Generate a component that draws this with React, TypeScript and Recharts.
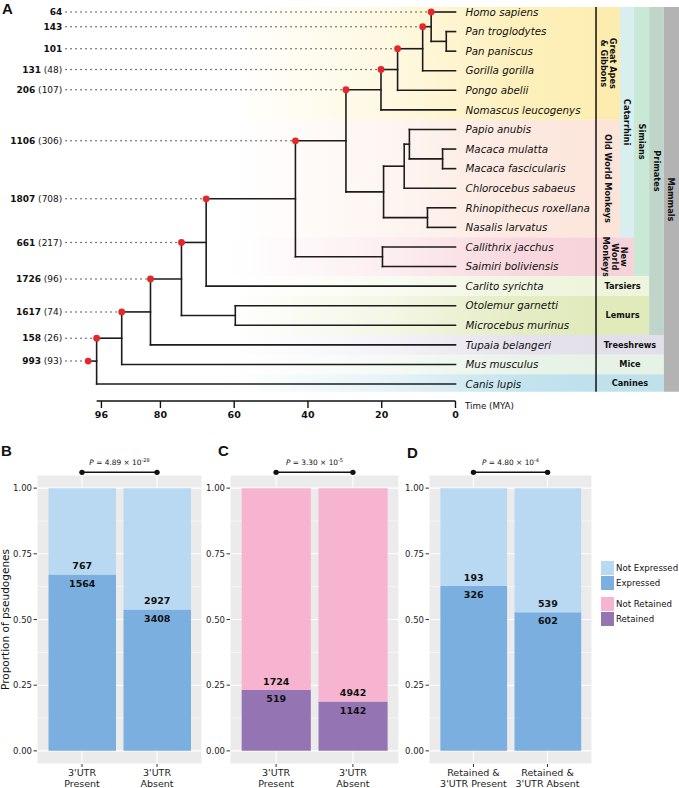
import React from "react"
import {
  ScatterChart,
  Scatter,
  XAxis,
  YAxis,
  ReferenceLine,
  ReferenceArea,
  ReferenceDot,
  BarChart,
  Bar,
  CartesianGrid,
  LabelList,
} from "recharts"

const FONT = "'DejaVu Sans', Verdana, sans-serif"

// ---------- A: species tree ----------
const TIPS = [
  "Homo sapiens",
  "Pan troglodytes",
  "Pan paniscus",
  "Gorilla gorilla",
  "Pongo abelii",
  "Nomascus leucogenys",
  "Papio anubis",
  "Macaca mulatta",
  "Macaca fascicularis",
  "Chlorocebus sabaeus",
  "Rhinopithecus roxellana",
  "Nasalis larvatus",
  "Callithrix jacchus",
  "Saimiri boliviensis",
  "Carlito syrichta",
  "Otolemur garnetti",
  "Microcebus murinus",
  "Tupaia belangeri",
  "Mus musculus",
  "Canis lupis",
]

// internal nodes: divergence time (MYA) and the two descendants
const NODES = [
  { id: "pan", age: 2.5, kids: ["Pan troglodytes", "Pan paniscus"] },
  { id: "hominini", age: 6.6, kids: ["Homo sapiens", "pan"] },
  { id: "homininae", age: 8.9, kids: ["hominini", "Gorilla gorilla"] },
  { id: "hominidae", age: 15.7, kids: ["homininae", "Pongo abelii"] },
  { id: "hominoidea", age: 20.2, kids: ["hominidae", "Nomascus leucogenys"] },
  { id: "macaca", age: 3.5, kids: ["Macaca mulatta", "Macaca fascicularis"] },
  { id: "papionini", age: 12.5, kids: ["Papio anubis", "macaca"] },
  { id: "cercopithecinae", age: 13.9, kids: ["papionini", "Chlorocebus sabaeus"] },
  { id: "colobinae", age: 7.6, kids: ["Rhinopithecus roxellana", "Nasalis larvatus"] },
  { id: "cercopithecidae", age: 19.5, kids: ["cercopithecinae", "colobinae"] },
  { id: "catarrhini", age: 29.7, kids: ["hominoidea", "cercopithecidae"] },
  { id: "platyrrhini", age: 19.8, kids: ["Callithrix jacchus", "Saimiri boliviensis"] },
  { id: "simiiformes", age: 43.4, kids: ["catarrhini", "platyrrhini"] },
  { id: "haplorhini", age: 67.6, kids: ["simiiformes", "Carlito syrichta"] },
  { id: "strepsirrhini", age: 59.7, kids: ["Otolemur garnetti", "Microcebus murinus"] },
  { id: "primates", age: 74.3, kids: ["haplorhini", "strepsirrhini"] },
  { id: "euarchonta", age: 82.7, kids: ["primates", "Tupaia belangeri"] },
  { id: "euarchontoglires", age: 90.5, kids: ["euarchonta", "Mus musculus"] },
  { id: "boreoeutheria", age: 97.3, kids: ["euarchontoglires", "Canis lupis"] },
]
const ROOT_ID = "boreoeutheria"
const ROOT_STEM_AGE = 99.6

// pseudogenes born on each branch (retained in brackets)
const BRANCH_COUNTS = [
  { node: "Homo sapiens", total: "64", retained: "" },
  { node: "hominini", total: "143", retained: "" },
  { node: "homininae", total: "101", retained: "" },
  { node: "hominidae", total: "131", retained: "48" },
  { node: "hominoidea", total: "206", retained: "107" },
  { node: "catarrhini", total: "1106", retained: "306" },
  { node: "simiiformes", total: "1807", retained: "708" },
  { node: "haplorhini", total: "661", retained: "217" },
  { node: "primates", total: "1726", retained: "96" },
  { node: "euarchonta", total: "1617", retained: "74" },
  { node: "euarchontoglires", total: "158", retained: "26" },
  { node: "boreoeutheria", total: "993", retained: "93" },
]

const TIME_TICKS = [0, 20, 40, 60, 80, 96]
const X_DOMAIN = [-60.6, 123.5]
const Y_DOMAIN = [-0.613, 19.867]
const LABEL_AGE = 106.6
const DOTS_FROM_AGE = 105.6
const BAND_START_AGE = 62
const ROW_TOP = -0.26
const ROW_BOTTOM = 19.4
// right-hand annotation columns, in the same time units as the x axis
const COL_EDGES = [-38.1, -44.6, -48.4, -52.5, -56.5, -60.6]

const ROW_GROUPS = [
  { from: 0, to: 5, color: "#fdeeb3" },
  { from: 6, to: 11, color: "#fce6dc" },
  { from: 12, to: 13, color: "#f7d3da" },
  { from: 14, to: 14, color: "#eef5dc" },
  { from: 15, to: 16, color: "#e1eabc" },
  { from: 17, to: 17, color: "#e3dfeb" },
  { from: 18, to: 18, color: "#e6f2e6" },
  { from: 19, to: 19, color: "#bde0ec" },
]

const CLADES = [
  { lines: ["Great Apes", "& Gibbons"], from: 0, to: 5, cols: [0, 1], color: "#fdecb0", rotate: true },
  { lines: ["Old World Monkeys"], from: 6, to: 11, cols: [0, 1], color: "#fce4d8", rotate: true },
  { lines: ["New", "World", "Monkeys"], from: 12, to: 13, cols: [0, 2], color: "#f6d2d9", rotate: true },
  { lines: ["Catarrhini"], from: 0, to: 11, cols: [1, 2], color: "#d9eeee", rotate: true },
  { lines: ["Simians"], from: 0, to: 13, cols: [2, 3], color: "#c9e8d6", rotate: true },
  { lines: ["Tarsiers"], from: 14, to: 14, cols: [0, 3], color: "#eef5dc", rotate: false },
  { lines: ["Lemurs"], from: 15, to: 16, cols: [0, 3], color: "#e1eabb", rotate: false },
  { lines: ["Primates"], from: 0, to: 16, cols: [3, 4], color: "#bfd5ca", rotate: true },
  { lines: ["Treeshrews"], from: 17, to: 17, cols: [0, 4], color: "#e2dfea", rotate: false },
  { lines: ["Mice"], from: 18, to: 18, cols: [0, 4], color: "#e6f2e5", rotate: false },
  { lines: ["Canines"], from: 19, to: 19, cols: [0, 4], color: "#bfe1ec", rotate: false },
  { lines: ["Mammals"], from: 0, to: 19, cols: [4, 5], color: "#b3b3b3", rotate: true },
]

// ---------- B, C, D: proportions ----------
const UTR_CATS = ["3'UTR\nPresent", "3'UTR\nAbsent"]
const B_EXPRESSED = [1564, 3408]
const B_NOT_EXPRESSED = [767, 2927]
const C_RETAINED = [519, 1142]
const C_NOT_RETAINED = [1724, 4942]
const D_CATS = ["Retained &\n3'UTR Present", "Retained &\n3'UTR Absent"]
const D_EXPRESSED = [326, 602]
const D_NOT_EXPRESSED = [193, 539]
const P_VALUES = [
  { mantissa: "4.89", exponent: "-28" },
  { mantissa: "3.30", exponent: "-5" },
  { mantissa: "4.80", exponent: "-4" },
]
const Y_DOMAIN_P = [-0.05, 1.05]
const Y_TICKS = [0, 0.25, 0.5, 0.75, 1]
const Y_MINOR = [0.125, 0.375, 0.625, 0.875]

const BLUE_LIGHT = "#b9d9f3"
const BLUE_DARK = "#7aafe0"
const PINK = "#f6b4d0"
const PURPLE = "#9574b4"

// tree helpers
const nodeMap = new Map(NODES.map((n) => [n.id, n]))
const parentOf = new Map<string, string>()
NODES.forEach((n) => n.kids.forEach((k) => parentOf.set(k, n.id)))
const ageOf = (id: string): number => nodeMap.get(id)?.age ?? 0
const rowOf = (id: string): number => {
  const n = nodeMap.get(id)
  if (!n) return TIPS.indexOf(id)
  return (rowOf(n.kids[0]) + rowOf(n.kids[1])) / 2
}
const parentAge = (id: string) => (id === ROOT_ID ? ROOT_STEM_AGE : ageOf(parentOf.get(id) as string))

function CladeText({ viewBox, lines, rotate }: any) {
  const { x, y, width, height } = viewBox
  const cx = x + width / 2
  const cy = y + height / 2
  const fs = 8.2
  const lh = 9
  return (
    <text
      transform={rotate ? `rotate(90 ${cx} ${cy})` : undefined}
      textAnchor="middle"
      fontSize={fs}
      fontWeight="bold"
      fontFamily={FONT}
      fill="#111"
    >
      {lines.map((l: string, i: number) => (
        <tspan key={i} x={cx} y={cy + (i - (lines.length - 1) / 2) * lh + fs * 0.36}>
          {l}
        </tspan>
      ))}
    </text>
  )
}

function TreePanel() {
  const ids = [...TIPS, ...NODES.map((n) => n.id)]
  const branches = ids.map((id) => [
    { x: parentAge(id), y: rowOf(id) },
    { x: ageOf(id), y: rowOf(id) },
  ])
  const joins = NODES.map((n) => [
    { x: n.age, y: rowOf(n.kids[0]) },
    { x: n.age, y: rowOf(n.kids[1]) },
  ])
  const dots = BRANCH_COUNTS.map((b) => ({ x: parentAge(b.node), y: rowOf(b.node) }))
  const labels = BRANCH_COUNTS.map((b) => ({ x: LABEL_AGE, y: rowOf(b.node), total: b.total, retained: b.retained }))
  const tips = TIPS.map((t, i) => ({ x: 0, y: i, name: t }))

  return (
    <ScatterChart width={679} height={430} margin={{ top: 0, right: 0, bottom: 0, left: 0 }}>
      <defs>
        {ROW_GROUPS.map((g, i) => (
          <linearGradient key={i} id={`rowgrad${i}`} x1="0" y1="0" x2="1" y2="0">
            <stop offset="0" stopColor={g.color} stopOpacity={0} />
            <stop offset="0.45" stopColor={g.color} stopOpacity={0.4} />
            <stop offset="0.8" stopColor={g.color} stopOpacity={0.9} />
            <stop offset="1" stopColor={g.color} stopOpacity={1} />
          </linearGradient>
        ))}
      </defs>
      <XAxis
        type="number"
        dataKey="x"
        domain={X_DOMAIN}
        reversed
        allowDataOverflow
        ticks={TIME_TICKS}
        interval={0}
        axisLine={false}
        tickSize={7}
        tickMargin={3}
        height={29}
        tickLine={{ stroke: "#111", strokeWidth: 1.4 }}
        tick={{ fontSize: 9.5, fontWeight: "bold", fill: "#111", fontFamily: FONT }}
      />
      <YAxis type="number" dataKey="y" domain={Y_DOMAIN} reversed allowDataOverflow hide />

      {ROW_GROUPS.map((g, i) => (
        <ReferenceArea
          key={`band${i}`}
          x1={BAND_START_AGE}
          x2={COL_EDGES[0]}
          y1={i === 0 ? ROW_TOP : g.from - 0.5}
          y2={i === ROW_GROUPS.length - 1 ? ROW_BOTTOM : g.to + 0.5}
          fill={`url(#rowgrad${i})`}
          fillOpacity={1}
          stroke="none"
          ifOverflow="visible"
        />
      ))}
      {CLADES.map((c, i) => (
        <ReferenceArea
          key={`clade${i}`}
          x1={COL_EDGES[c.cols[0]]}
          x2={COL_EDGES[c.cols[1]]}
          y1={c.from === 0 ? ROW_TOP : c.from - 0.5}
          y2={c.to === TIPS.length - 1 ? ROW_BOTTOM : c.to + 0.5}
          fill={c.color}
          fillOpacity={1}
          stroke="none"
          ifOverflow="visible"
          label={{ content: (p: any) => <CladeText viewBox={p.viewBox} lines={c.lines} rotate={c.rotate} /> }}
        />
      ))}
      <ReferenceLine
        segment={[
          { x: COL_EDGES[0], y: ROW_TOP },
          { x: COL_EDGES[0], y: ROW_BOTTOM },
        ]}
        stroke="#111"
        strokeWidth={1.5}
        ifOverflow="visible"
      />
      <ReferenceLine
        segment={[
          { x: ageOf(ROOT_ID), y: Y_DOMAIN[1] },
          { x: 0, y: Y_DOMAIN[1] },
        ]}
        stroke="#111"
        strokeWidth={1.5}
        ifOverflow="visible"
      />
      {labels.map((l, i) => (
        <ReferenceLine
          key={`dots${i}`}
          segment={[
            { x: DOTS_FROM_AGE, y: l.y },
            { x: dots[i].x, y: l.y },
          ]}
          stroke="#333"
          strokeWidth={1.5}
          strokeDasharray="0 5"
          strokeLinecap="round"
          ifOverflow="visible"
        />
      ))}
      {[...branches, ...joins].map((s, i) => (
        <ReferenceLine
          key={`br${i}`}
          segment={s}
          stroke="#1c1c1c"
          strokeWidth={1.6}
          strokeLinecap="square"
          ifOverflow="visible"
        />
      ))}
      <Scatter
        data={tips}
        isAnimationActive={false}
        shape={(p: any) => (
          <text
            x={p.cx + 10}
            y={p.cy + 3.7}
            fontSize={10.3}
            fontStyle="italic"
            fontFamily={FONT}
            fill="#111"
          >
            {p.payload.name}
          </text>
        )}
      />
      <Scatter
        data={labels}
        isAnimationActive={false}
        shape={(p: any) => (
          <text x={p.cx} y={p.cy + 3.3} textAnchor="end" fontSize={9} fontFamily={FONT} fill="#111">
            <tspan fontWeight="bold">{p.payload.total}</tspan>
            {p.payload.retained ? <tspan> ({p.payload.retained})</tspan> : null}
          </text>
        )}
      />
      <Scatter
        data={dots}
        isAnimationActive={false}
        shape={(p: any) => <circle cx={p.cx} cy={p.cy} r={3.4} fill="#e5272b" />}
      />
    </ScatterChart>
  )
}

function CatTick({ x, y, payload }: any) {
  const lines = String(payload.value).split("\n")
  return (
    <text x={x} y={y} textAnchor="middle" fontSize={9.5} fontFamily={FONT} fill="#222">
      {lines.map((l, i) => (
        <tspan key={i} x={x} dy={i === 0 ? "0.72em" : "1.22em"}>
          {l}
        </tspan>
      ))}
    </text>
  )
}

function countLabel(offset: (y: number, h: number) => number) {
  return (p: any) => {
    const vb = p.viewBox ?? p
    const { x, y, width, height } = vb
    return (
      <text
        x={x + width / 2}
        y={offset(y, height)}
        textAnchor="middle"
        fontSize={9.5}
        fontWeight="bold"
        fontFamily={FONT}
        fill="#111"
      >
        {p.value}
      </text>
    )
  }
}

function PLabel({ viewBox, pv }: any) {
  const cx = viewBox.x + viewBox.width / 2
  return (
    <text x={cx} y={viewBox.y - 7.5} textAnchor="middle" fontSize={7.4} fontFamily={FONT} fill="#111">
      <tspan fontStyle="italic">P</tspan>
      <tspan>{`  = ${pv.mantissa} × 10`}</tspan>
      <tspan dy={-3} fontSize={5}>
        {pv.exponent}
      </tspan>
    </text>
  )
}

// minor gridlines: use the axis scale when handed one, else the plot box
const minorRows = ({ yAxis, offset }: any) => {
  const s = yAxis?.scale
  if (typeof s === "function") return Y_MINOR.map((v) => s(v))
  const top = offset?.top ?? 35
  const h = offset?.height ?? 289
  return Y_MINOR.map((v) => top + ((Y_DOMAIN_P[1] - v) / (Y_DOMAIN_P[1] - Y_DOMAIN_P[0])) * h)
}

function ProportionPanel({ cats, lower, upper, lowerColor, upperColor, pv, width, yTitle }: any) {
  const rows = cats.map((c: string, i: number) => {
    const tot = lower[i] + upper[i]
    return { cat: c, lowerP: lower[i] / tot, upperP: upper[i] / tot, lowerN: lower[i], upperN: upper[i] }
  })
  const plotW = width - 37
  const pad = plotW / 22
  const barW = (plotW * 0.9) / 2.2
  return (
    <BarChart width={width} height={348} data={rows} margin={{ top: 35, right: 0, bottom: 0, left: 0 }} barCategoryGap={0}>
      <CartesianGrid fill="#ebebeb" stroke="#ffffff" strokeWidth={1.1} />
      <CartesianGrid vertical={false} fill="none" stroke="#ffffff" strokeWidth={0.55} horizontalCoordinatesGenerator={minorRows} />
      <XAxis
        dataKey="cat"
        height={24}
        tickSize={3}
        tickMargin={2}
        padding={{ left: pad, right: pad }}
        axisLine={false}
        interval={0}
        tickLine={{ stroke: "#333" }}
        tick={<CatTick />}
      />
      <YAxis
        type="number"
        width={37}
        domain={Y_DOMAIN_P}
        allowDataOverflow
        ticks={Y_TICKS}
        interval={0}
        tickFormatter={(v: number) => v.toFixed(2)}
        tickSize={3.5}
        tickMargin={1.5}
        axisLine={false}
        tickLine={{ stroke: "#333" }}
        tick={{ fontSize: 8.5, fill: "#222", fontFamily: FONT }}
        label={
          yTitle
            ? { value: yTitle, angle: -90, position: "insideLeft", offset: 5, fontSize: 10.5, fill: "#111", fontFamily: FONT, style: { textAnchor: "middle" } }
            : undefined
        }
      />
      <Bar dataKey="lowerP" stackId="s" fill={lowerColor} barSize={barW} isAnimationActive={false}>
        <LabelList dataKey="lowerN" content={countLabel((y) => y + 12.2)} />
      </Bar>
      <Bar dataKey="upperP" stackId="s" fill={upperColor} barSize={barW} isAnimationActive={false}>
        <LabelList dataKey="upperN" content={countLabel((y, h) => y + h - 5.2)} />
      </Bar>
      <ReferenceLine
        segment={[
          { x: cats[0], y: 1.06 },
          { x: cats[1], y: 1.06 },
        ]}
        stroke="#111"
        strokeWidth={1.5}
        ifOverflow="visible"
        label={{ content: (p: any) => <PLabel viewBox={p.viewBox} pv={pv} /> }}
      />
      {cats.map((c: string) => (
        <ReferenceDot key={c} x={c} y={1.06} r={2.7} fill="#111" stroke="none" ifOverflow="visible" />
      ))}
    </BarChart>
  )
}

const letterStyle: React.CSSProperties = {
  position: "absolute",
  fontFamily: "'Liberation Sans', Arial, sans-serif",
  fontWeight: "bold",
  fontSize: 15,
  lineHeight: "15px",
  color: "#111",
}

const LEGEND = [
  { label: "Not Expressed", color: BLUE_LIGHT, gap: 0 },
  { label: "Expressed", color: BLUE_DARK, gap: 0 },
  { label: "Not Retained", color: PINK, gap: 6 },
  { label: "Retained", color: PURPLE, gap: 0 },
]

export default function App() {
  return (
    <div style={{ position: "absolute", left: 0, top: 0, width: 679, height: 788, background: "#fff", overflow: "hidden", fontFamily: FONT }}>
      <div style={{ position: "absolute", left: 0, top: 0 }}>
        <TreePanel />
      </div>
      <div style={{ position: "absolute", left: 465, top: 401, fontSize: 8.7, color: "#111" }}>Time (MYA)</div>

      <div style={{ position: "absolute", left: 0, top: 440 }}>
        <ProportionPanel cats={UTR_CATS} lower={B_EXPRESSED} upper={B_NOT_EXPRESSED} lowerColor={BLUE_DARK} upperColor={BLUE_LIGHT} pv={P_VALUES[0]} width={202} yTitle="Proportion of pseudogenes" />
      </div>
      <div style={{ position: "absolute", left: 193, top: 440 }}>
        <ProportionPanel cats={UTR_CATS} lower={C_RETAINED} upper={C_NOT_RETAINED} lowerColor={PURPLE} upperColor={PINK} pv={P_VALUES[1]} width={206} />
      </div>
      <div style={{ position: "absolute", left: 392, top: 440 }}>
        <ProportionPanel cats={D_CATS} lower={D_EXPRESSED} upper={D_NOT_EXPRESSED} lowerColor={BLUE_DARK} upperColor={BLUE_LIGHT} pv={P_VALUES[2]} width={200} />
      </div>

      <div style={{ ...letterStyle, left: 2, top: 1 }}>A</div>
      <div style={{ ...letterStyle, left: 1, top: 443 }}>B</div>
      <div style={{ ...letterStyle, left: 218, top: 443 }}>C</div>
      <div style={{ ...letterStyle, left: 407, top: 445 }}>D</div>

      <div style={{ position: "absolute", left: 601, top: 560, fontSize: 8.6, color: "#111" }}>
        {LEGEND.map((l) => (
          <div key={l.label} style={{ display: "flex", alignItems: "center", height: 15, marginTop: l.gap }}>
            <div style={{ width: 13, height: 14, background: l.color, marginRight: 2 }} />
            <span>{l.label}</span>
          </div>
        ))}
      </div>
    </div>
  )
}
